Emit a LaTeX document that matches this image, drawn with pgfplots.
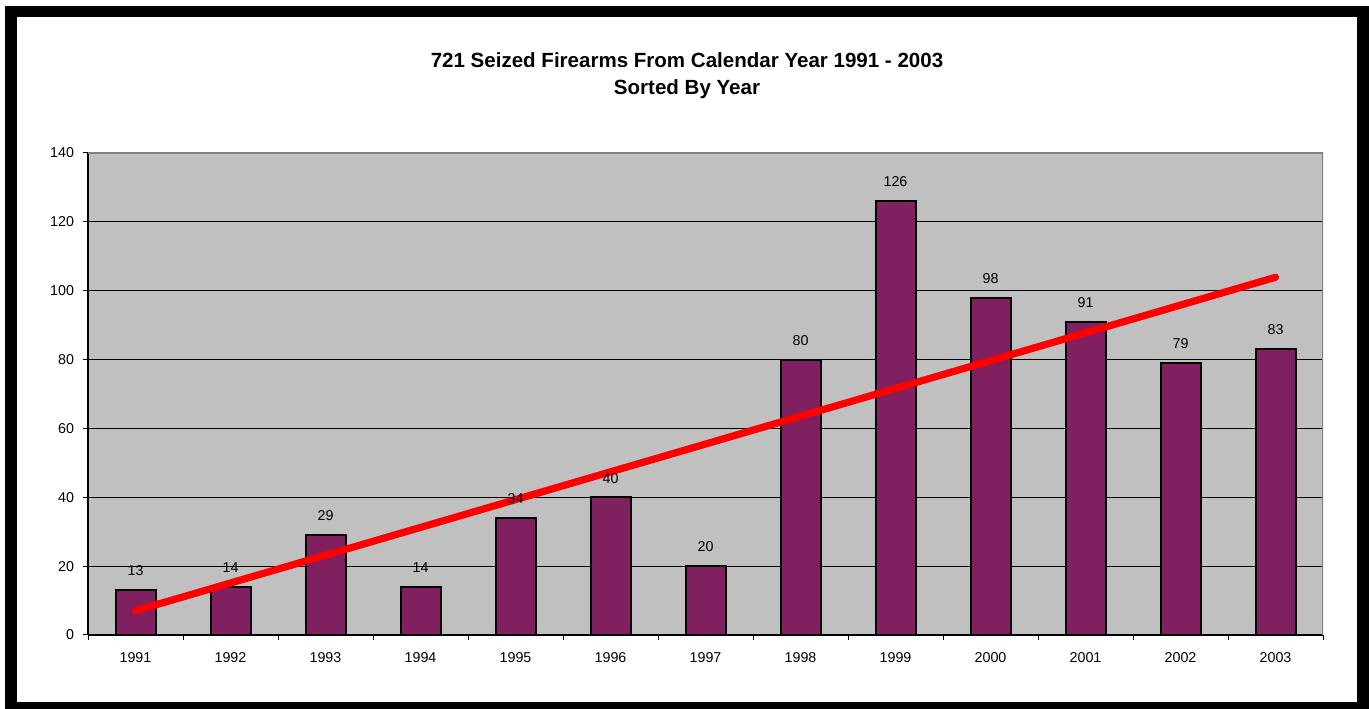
\documentclass[border=0pt]{standalone}
\usepackage{pgfplots}
\pgfplotsset{compat=1.18}
\usepackage{fontspec}
\setmainfont{Liberation Sans}
\definecolor{barpurple}{RGB}{128,32,96}
\definecolor{plotgray}{RGB}{192,192,192}
\definecolor{edgegray}{RGB}{128,128,128}
\begin{document}
\begin{tikzpicture}[x=0.75pt,y=0.75pt]
\fill[white] (0,0) rectangle (1369,709);
\fill[black] (5,0) rectangle (1369,703);
\fill[white] (17,7) rectangle (1357,692);
\node[font=\bfseries\fontsize{15.4}{18}\selectfont] at (687,649) {721 Seized Firearms From Calendar Year 1991 - 2003};
\node[font=\bfseries\fontsize{15.4}{18}\selectfont] at (687,620) {Sorted By Year};
\begin{axis}[
  at={(66pt,55.5pt)}, anchor=south west,
  scale only axis, width=926.25pt, height=361.5pt,
  xmin=-0.5, xmax=12.5, ymin=0, ymax=140,
  axis x line*=bottom, axis y line*=left,
  axis line style={black, line width=1pt, -},
  axis background/.style={fill=plotgray},
  ytick={0,20,...,140},
  xtick={0,...,12},
  xticklabels={1991,1992,1993,1994,1995,1996,1997,1998,1999,2000,2001,2002,2003},
  minor xtick={-0.5,0.5,...,12.5},
  major x tick style={draw=none},
  tick align=outside,
  major tick length=4pt, minor tick length=3.5pt,
  tick style={black, line width=0.75pt},
  ymajorgrids, grid style={black, line width=0.6pt},
  ticklabel style={font=\fontsize{10.7}{12}\selectfont},
  xticklabel style={yshift=-5.5pt},
  yticklabel style={xshift=-3pt},
  /pgf/number format/assume math mode=true,
]
\addplot[ybar, bar width=30pt, fill=barpurple, draw=black, line width=1.5pt,
  nodes near coords,
  every node near coord/.append style={black, font=\fontsize{10.7}{12}\selectfont, yshift=6.5pt}]
  coordinates {(0,13) (1,14) (2,29) (3,14) (4,34) (5,40) (6,20) (7,80) (8,126) (9,98) (10,91) (11,79) (12,83)};
\addplot[red, line width=5.4pt, line cap=round, no markers] coordinates {(0,7.03) (12,103.9)};
\draw[edgegray, line width=1.2pt] (rel axis cs:0,1) -- (rel axis cs:1,1) -- (rel axis cs:1,0);
\end{axis}
\end{tikzpicture}
\end{document}
